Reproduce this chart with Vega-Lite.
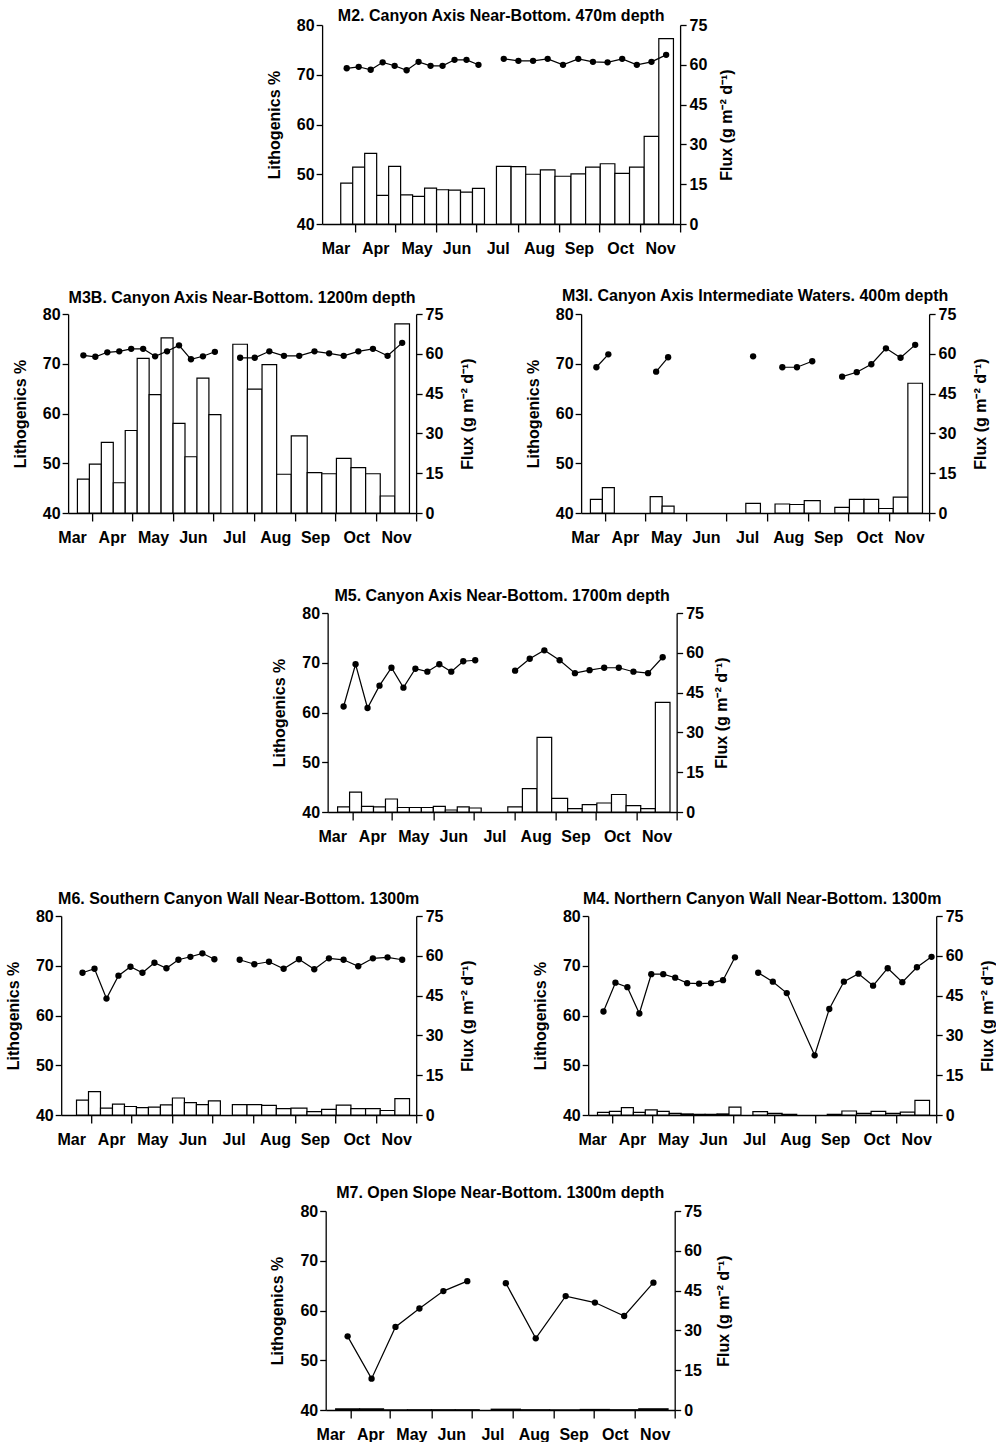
{
  "$schema": "https://vega.github.io/schema/vega-lite/v6.json",
  "background": "white",
  "padding": {"left": 5, "top": 8, "right": 0, "bottom": 0},
  "config": {
    "font": "Liberation Sans",
    "view": {"stroke": null},
    "axis": {"labelFont": "Liberation Sans", "labelFontSize": 16, "labelFontWeight": "bold", "labelColor": "black", "titleFont": "Liberation Sans", "titleFontSize": 16, "titleFontWeight": "bold", "titleColor": "black", "domainColor": "black", "tickColor": "black", "domainWidth": 1.3, "tickWidth": 1.3, "grid": false},
    "title": {"font": "Liberation Sans", "fontSize": 16, "fontWeight": "bold", "color": "black", "anchor": "middle", "frame": "group"}
  },
  "datasets": {
    "m2b": [
      {"s":79,"e":88,"f":15.4},{"s":88,"e":97,"f":21.4},{"s":97,"e":106,"f":26.6},{"s":106,"e":115,"f":10.8},{"s":115,"e":124,"f":21.7},{"s":124,"e":133,"f":11.0},{"s":133,"e":142,"f":10.4},{"s":142,"e":151,"f":13.5},{"s":151,"e":160,"f":12.9},{"s":160,"e":169,"f":12.8},{"s":169,"e":178,"f":12.0},{"s":178,"e":187,"f":13.4},
      {"s":196,"e":207,"f":21.75},{"s":207,"e":218,"f":21.6},{"s":218,"e":229,"f":18.75},{"s":229,"e":240,"f":20.4},{"s":240,"e":252,"f":18.0},{"s":252,"e":263,"f":18.9},{"s":263,"e":274,"f":21.4},{"s":274,"e":285,"f":22.7},{"s":285,"e":296,"f":19.1},{"s":296,"e":307,"f":21.4},{"s":307,"e":318,"f":33.0},{"s":318,"e":329,"f":69.9}
    ],
    "m2p": [
      {"d":83.5,"v":71.3,"g":1},{"d":92.5,"v":71.6,"g":1},{"d":101.5,"v":71.0,"g":1},{"d":110.5,"v":72.5,"g":1},{"d":119.5,"v":71.8,"g":1},{"d":128.5,"v":70.9,"g":1},{"d":137.5,"v":72.6,"g":1},{"d":146.5,"v":71.8,"g":1},{"d":155.5,"v":71.8,"g":1},{"d":164.5,"v":73.0,"g":1},{"d":173.5,"v":73.0,"g":1},{"d":182.5,"v":72.0,"g":1},
      {"d":201.5,"v":73.2,"g":2},{"d":212.5,"v":72.8,"g":2},{"d":223.5,"v":72.8,"g":2},{"d":234.5,"v":73.2,"g":2},{"d":246,"v":72.0,"g":2},{"d":257.5,"v":73.2,"g":2},{"d":268.5,"v":72.6,"g":2},{"d":279.5,"v":72.5,"g":2},{"d":290.5,"v":73.2,"g":2},{"d":301.5,"v":72.0,"g":2},{"d":312.5,"v":72.6,"g":2},{"d":323.5,"v":74.0,"g":2}
    ],
    "m3bb": [
      {"s":79,"e":88,"f":12.75},{"s":88,"e":97,"f":18.4},{"s":97,"e":106,"f":26.6},{"s":106,"e":115,"f":11.4},{"s":115,"e":124,"f":31.1},{"s":124,"e":133,"f":58.3},{"s":133,"e":142,"f":44.6},{"s":142,"e":151,"f":66.0},{"s":151,"e":160,"f":33.75},{"s":160,"e":169,"f":21.2},{"s":169,"e":178,"f":50.8},{"s":178,"e":187,"f":37.1},
      {"s":196,"e":207,"f":63.6},{"s":207,"e":218,"f":46.7},{"s":218,"e":229,"f":55.9},{"s":229,"e":240,"f":14.6},{"s":240,"e":252,"f":29.1},{"s":252,"e":263,"f":15.2},{"s":263,"e":274,"f":14.8},{"s":274,"e":285,"f":20.6},{"s":285,"e":296,"f":17.1},{"s":296,"e":307,"f":14.8},{"s":307,"e":318,"f":6.4},{"s":318,"e":329,"f":71.3}
    ],
    "m3bp": [
      {"d":83.5,"v":71.7,"g":1},{"d":92.5,"v":71.4,"g":1},{"d":101.5,"v":72.3,"g":1},{"d":110.5,"v":72.5,"g":1},{"d":119.5,"v":73.0,"g":1},{"d":128.5,"v":73.0,"g":1},{"d":137.5,"v":71.5,"g":1},{"d":146.5,"v":72.5,"g":1},{"d":155.5,"v":73.7,"g":1},{"d":164.5,"v":70.9,"g":1},{"d":173.5,"v":71.5,"g":1},{"d":182.5,"v":72.4,"g":1},
      {"d":201.5,"v":71.2,"g":2},{"d":212.5,"v":71.2,"g":2},{"d":223.5,"v":72.5,"g":2},{"d":234.5,"v":71.6,"g":2},{"d":246,"v":71.6,"g":2},{"d":257.5,"v":72.5,"g":2},{"d":268.5,"v":72.1,"g":2},{"d":279.5,"v":71.6,"g":2},{"d":290.5,"v":72.5,"g":2},{"d":301.5,"v":73.0,"g":2},{"d":312.5,"v":71.6,"g":2},{"d":323.5,"v":74.2,"g":2}
    ],
    "m3ib": [
      {"s":79,"e":88,"f":5.1},{"s":88,"e":97,"f":9.6},{"s":124,"e":133,"f":6.2},{"s":133,"e":142,"f":2.6},
      {"s":196,"e":207,"f":3.6},{"s":218,"e":229,"f":3.4},{"s":229,"e":240,"f":3.2},{"s":240,"e":252,"f":4.7},{"s":263,"e":274,"f":2.1},{"s":274,"e":285,"f":5.1},{"s":285,"e":296,"f":5.1},{"s":296,"e":307,"f":1.7},{"s":307,"e":318,"f":6.0},{"s":318,"e":329,"f":48.9}
    ],
    "m3ip": [
      {"d":83.5,"v":69.3,"g":1},{"d":92.5,"v":71.9,"g":1},
      {"d":128.5,"v":68.4,"g":2},{"d":137.5,"v":71.3,"g":2},
      {"d":201.5,"v":71.5,"g":3},
      {"d":223.5,"v":69.3,"g":4},{"d":234.5,"v":69.3,"g":4},{"d":246,"v":70.5,"g":4},
      {"d":268.5,"v":67.4,"g":5},{"d":279.5,"v":68.3,"g":5},{"d":290.5,"v":69.9,"g":5},{"d":301.5,"v":73.1,"g":5},{"d":312.5,"v":71.2,"g":5},{"d":323.5,"v":73.8,"g":5}
    ],
    "m5b": [
      {"s":79,"e":88,"f":1.9},{"s":88,"e":97,"f":7.5},{"s":97,"e":106,"f":2.1},{"s":106,"e":115,"f":1.9},{"s":115,"e":124,"f":4.9},{"s":124,"e":133,"f":1.7},{"s":133,"e":142,"f":1.7},{"s":142,"e":151,"f":1.7},{"s":151,"e":160,"f":2.1},{"s":160,"e":169,"f":0.75},{"s":169,"e":178,"f":1.9},{"s":178,"e":187,"f":1.5},
      {"s":207,"e":218,"f":1.9},{"s":218,"e":229,"f":8.8},{"s":229,"e":240,"f":28.1},{"s":240,"e":252,"f":5.1},{"s":252,"e":263,"f":1.3},{"s":263,"e":274,"f":2.8},{"s":274,"e":285,"f":3.4},{"s":285,"e":296,"f":6.6},{"s":296,"e":307,"f":2.4},{"s":307,"e":318,"f":1.3},{"s":318,"e":329,"f":41.3}
    ],
    "m5p": [
      {"d":83.5,"v":61.2,"g":1},{"d":92.5,"v":69.7,"g":1},{"d":101.5,"v":60.9,"g":1},{"d":110.5,"v":65.4,"g":1},{"d":119.5,"v":69.0,"g":1},{"d":128.5,"v":65.0,"g":1},{"d":137.5,"v":68.8,"g":1},{"d":146.5,"v":68.2,"g":1},{"d":155.5,"v":69.7,"g":1},{"d":164.5,"v":68.2,"g":1},{"d":173.5,"v":70.3,"g":1},{"d":182.5,"v":70.5,"g":1},
      {"d":212.5,"v":68.4,"g":2},{"d":223.5,"v":70.8,"g":2},{"d":234.5,"v":72.5,"g":2},{"d":246,"v":70.5,"g":2},{"d":257.5,"v":67.9,"g":2},{"d":268.5,"v":68.5,"g":2},{"d":279.5,"v":69.0,"g":2},{"d":290.5,"v":69.0,"g":2},{"d":301.5,"v":68.2,"g":2},{"d":312.5,"v":67.9,"g":2},{"d":323.5,"v":71.1,"g":2}
    ],
    "m6b": [
      {"s":79,"e":88,"f":5.6},{"s":88,"e":97,"f":8.8},{"s":97,"e":106,"f":2.6},{"s":106,"e":115,"f":4.1},{"s":115,"e":124,"f":3.2},{"s":124,"e":133,"f":2.8},{"s":133,"e":142,"f":3.0},{"s":142,"e":151,"f":3.8},{"s":151,"e":160,"f":6.4},{"s":160,"e":169,"f":4.7},{"s":169,"e":178,"f":3.9},{"s":178,"e":187,"f":5.3},
      {"s":196,"e":207,"f":3.9},{"s":207,"e":218,"f":3.9},{"s":218,"e":229,"f":3.6},{"s":229,"e":240,"f":2.4},{"s":240,"e":252,"f":2.6},{"s":252,"e":263,"f":1.3},{"s":263,"e":274,"f":2.1},{"s":274,"e":285,"f":3.75},{"s":285,"e":296,"f":2.4},{"s":296,"e":307,"f":2.4},{"s":307,"e":318,"f":1.7},{"s":318,"e":329,"f":6.2}
    ],
    "m6p": [
      {"d":83.5,"v":68.6,"g":1},{"d":92.5,"v":69.4,"g":1},{"d":101.5,"v":63.4,"g":1},{"d":110.5,"v":68.0,"g":1},{"d":119.5,"v":69.8,"g":1},{"d":128.5,"v":68.6,"g":1},{"d":137.5,"v":70.6,"g":1},{"d":146.5,"v":69.5,"g":1},{"d":155.5,"v":71.2,"g":1},{"d":164.5,"v":71.8,"g":1},{"d":173.5,"v":72.5,"g":1},{"d":182.5,"v":71.3,"g":1},
      {"d":201.5,"v":71.2,"g":2},{"d":212.5,"v":70.3,"g":2},{"d":223.5,"v":70.8,"g":2},{"d":234.5,"v":69.4,"g":2},{"d":246,"v":71.3,"g":2},{"d":257.5,"v":69.3,"g":2},{"d":268.5,"v":71.5,"g":2},{"d":279.5,"v":71.2,"g":2},{"d":290.5,"v":69.9,"g":2},{"d":301.5,"v":71.5,"g":2},{"d":312.5,"v":71.7,"g":2},{"d":323.5,"v":71.2,"g":2}
    ],
    "m4b": [
      {"s":79,"e":88,"f":1.0},{"s":88,"e":97,"f":1.4},{"s":97,"e":106,"f":2.8},{"s":106,"e":115,"f":1.0},{"s":115,"e":124,"f":1.9},{"s":124,"e":133,"f":1.4},{"s":133,"e":142,"f":0.6},{"s":142,"e":151,"f":0.4},{"s":151,"e":160,"f":0.25},{"s":160,"e":169,"f":0.25},{"s":169,"e":178,"f":0.4},{"s":178,"e":187,"f":3.0},
      {"s":196,"e":207,"f":1.25},{"s":207,"e":218,"f":0.6},{"s":218,"e":229,"f":0.25},{"s":252,"e":263,"f":0.25},{"s":263,"e":274,"f":1.5},{"s":274,"e":285,"f":0.6},{"s":285,"e":296,"f":1.4},{"s":296,"e":307,"f":0.6},{"s":307,"e":318,"f":1.1},{"s":318,"e":329,"f":5.5}
    ],
    "m4p": [
      {"d":83.5,"v":60.8,"g":1},{"d":92.5,"v":66.6,"g":1},{"d":101.5,"v":65.7,"g":1},{"d":110.5,"v":60.4,"g":1},{"d":119.5,"v":68.3,"g":1},{"d":128.5,"v":68.3,"g":1},{"d":137.5,"v":67.6,"g":1},{"d":146.5,"v":66.5,"g":1},{"d":155.5,"v":66.4,"g":1},{"d":164.5,"v":66.5,"g":1},{"d":173.5,"v":67.1,"g":1},{"d":182.5,"v":71.7,"g":1},
      {"d":200,"v":68.6,"g":2},{"d":211,"v":66.8,"g":2},{"d":221.5,"v":64.5,"g":2},{"d":242.5,"v":52.0,"g":2},{"d":253.5,"v":61.3,"g":2},{"d":264.5,"v":66.8,"g":2},{"d":275.5,"v":68.4,"g":2},{"d":286.5,"v":66.0,"g":2},{"d":297.5,"v":69.5,"g":2},{"d":308.5,"v":66.7,"g":2},{"d":319.5,"v":69.7,"g":2},{"d":330.5,"v":71.8,"g":2}
    ],
    "m7b": [
      {"s":79,"e":97,"f":0.45},{"s":97,"e":115,"f":0.45},{"s":115,"e":133,"f":0.1},{"s":133,"e":151,"f":0.1},{"s":151,"e":169,"f":0.1},{"s":169,"e":187,"f":0.1},
      {"s":196,"e":218,"f":0.3},{"s":218,"e":240,"f":0.1},{"s":240,"e":263,"f":0.1},{"s":263,"e":285,"f":0.2},{"s":285,"e":307,"f":0.1},{"s":307,"e":329,"f":0.45}
    ],
    "m7p": [
      {"d":88,"v":54.8,"g":1},{"d":106,"v":46.3,"g":1},{"d":124,"v":56.7,"g":1},{"d":142,"v":60.4,"g":1},{"d":160,"v":63.9,"g":1},{"d":178,"v":65.9,"g":1},
      {"d":207,"v":65.5,"g":2},{"d":229.5,"v":54.4,"g":2},{"d":252,"v":62.9,"g":2},{"d":274,"v":61.6,"g":2},{"d":296,"v":58.9,"g":2},{"d":318,"v":65.6,"g":2}
    ]
  },
  "vconcat": [
    {
      "width": 358, "height": 199,
      "title": {"text": "M2. Canyon Axis Near-Bottom. 470m depth", "offset": -7},
      "layer": [
        {"data": {"name": "m2b"}, "mark": {"type": "bar", "fill": "white", "stroke": "black", "strokeWidth": 1.2},
         "encoding": {
           "x": {"field": "s", "type": "quantitative", "scale": {"domain": [65, 334], "nice": false, "zero": false}, "axis": {"values": [90,120,151,181,212,243,273,304,334], "labelExpr": "timeFormat(datetime(2001,0,datum.value),'%b')", "labelOffset": -20, "labelFlush": false, "labelOverlap": false, "labelBound": false, "tickSize": 8, "labelPadding": 8, "title": null}},
           "x2": {"field": "e"},
           "y": {"field": "f", "type": "quantitative", "scale": {"domain": [0, 75], "nice": false}, "axis": {"orient": "right", "values": [0,15,30,45,60,75], "tickSize": 6, "labelPadding": 3, "title": "Flux (g m⁻² d⁻¹)", "titleAngle": 270, "titleBaseline": "top", "titlePadding": 12}},
           "y2": {"datum": 0}
         }},
        {"data": {"name": "m2p"},
         "encoding": {
           "x": {"field": "d", "type": "quantitative", "axis": {"values": [90,120,151,181,212,243,273,304,334], "labelExpr": "timeFormat(datetime(2001,0,datum.value),'%b')", "labelOffset": -20, "labelFlush": false, "labelOverlap": false, "labelBound": false, "tickSize": 8, "labelPadding": 8, "title": null}},
           "y": {"field": "v", "type": "quantitative", "scale": {"domain": [40, 80], "nice": false, "zero": false}, "axis": {"orient": "left", "values": [40,50,60,70,80], "tickSize": 6, "labelPadding": 2, "title": "Lithogenics %", "titlePadding": 14}}
         },
         "layer": [
           {"mark": {"type": "line", "color": "black", "strokeWidth": 1.2}, "encoding": {"detail": {"field": "g"}}},
           {"mark": {"type": "point", "filled": true, "color": "black", "opacity": 1, "size": 40}}
         ]}
      ],
      "resolve": {"scale": {"y": "independent"}}
    },
    {
      "spacing": 43, "center": true,
      "vconcat": [
        {
          "spacing": 49,
          "hconcat": [
            {
              "width": 348, "height": 199,
              "title": {"text": "M3B. Canyon Axis Near-Bottom. 1200m depth", "offset": 0},
              "layer": [
                {"data": {"name": "m3bb"}, "mark": {"type": "bar", "fill": "white", "stroke": "black", "strokeWidth": 1.2},
                 "encoding": {
                   "x": {"field": "s", "type": "quantitative", "scale": {"domain": [72, 334], "nice": false, "zero": false}, "axis": {"values": [90,120,151,181,212,243,273,304,334], "labelExpr": "timeFormat(datetime(2001,0,datum.value),'%b')", "labelOffset": -20, "labelFlush": false, "labelOverlap": false, "labelBound": false, "tickSize": 8, "labelPadding": 8, "title": null}},
                   "x2": {"field": "e"},
                   "y": {"field": "f", "type": "quantitative", "scale": {"domain": [0, 75], "nice": false}, "axis": {"orient": "right", "values": [0,15,30,45,60,75], "tickSize": 6, "labelPadding": 3, "title": "Flux (g m⁻² d⁻¹)", "titleAngle": 270, "titleBaseline": "top", "titlePadding": 17}},
                   "y2": {"datum": 0}
                 }},
                {"data": {"name": "m3bp"},
                 "encoding": {
                   "x": {"field": "d", "type": "quantitative", "axis": {"values": [90,120,151,181,212,243,273,304,334], "labelExpr": "timeFormat(datetime(2001,0,datum.value),'%b')", "labelOffset": -20, "labelFlush": false, "labelOverlap": false, "labelBound": false, "tickSize": 8, "labelPadding": 8, "title": null}},
                   "y": {"field": "v", "type": "quantitative", "scale": {"domain": [40, 80], "nice": false, "zero": false}, "axis": {"orient": "left", "values": [40,50,60,70,80], "tickSize": 6, "labelPadding": 2, "title": "Lithogenics %", "titlePadding": 14}}
                 },
                 "layer": [
                   {"mark": {"type": "line", "color": "black", "strokeWidth": 1.2}, "encoding": {"detail": {"field": "g"}}},
                   {"mark": {"type": "point", "filled": true, "color": "black", "opacity": 1, "size": 40}}
                 ]}
              ],
              "resolve": {"scale": {"y": "independent"}}
            },
            {
              "width": 348, "height": 199,
              "title": {"text": "M3I. Canyon Axis Intermediate Waters. 400m depth", "offset": 2},
              "layer": [
                {"data": {"name": "m3ib"}, "mark": {"type": "bar", "fill": "white", "stroke": "black", "strokeWidth": 1.2},
                 "encoding": {
                   "x": {"field": "s", "type": "quantitative", "scale": {"domain": [72, 334], "nice": false, "zero": false}, "axis": {"values": [90,120,151,181,212,243,273,304,334], "labelExpr": "timeFormat(datetime(2001,0,datum.value),'%b')", "labelOffset": -20, "labelFlush": false, "labelOverlap": false, "labelBound": false, "tickSize": 8, "labelPadding": 8, "title": null}},
                   "x2": {"field": "e"},
                   "y": {"field": "f", "type": "quantitative", "scale": {"domain": [0, 75], "nice": false}, "axis": {"orient": "right", "values": [0,15,30,45,60,75], "tickSize": 6, "labelPadding": 3, "title": "Flux (g m⁻² d⁻¹)", "titleAngle": 270, "titleBaseline": "top", "titlePadding": 17}},
                   "y2": {"datum": 0}
                 }},
                {"data": {"name": "m3ip"},
                 "encoding": {
                   "x": {"field": "d", "type": "quantitative", "axis": {"values": [90,120,151,181,212,243,273,304,334], "labelExpr": "timeFormat(datetime(2001,0,datum.value),'%b')", "labelOffset": -20, "labelFlush": false, "labelOverlap": false, "labelBound": false, "tickSize": 8, "labelPadding": 8, "title": null}},
                   "y": {"field": "v", "type": "quantitative", "scale": {"domain": [40, 80], "nice": false, "zero": false}, "axis": {"orient": "left", "values": [40,50,60,70,80], "tickSize": 6, "labelPadding": 2, "title": "Lithogenics %", "titlePadding": 14}}
                 },
                 "layer": [
                   {"mark": {"type": "line", "color": "black", "strokeWidth": 1.2}, "encoding": {"detail": {"field": "g"}}},
                   {"mark": {"type": "point", "filled": true, "color": "black", "opacity": 1, "size": 40}}
                 ]}
              ],
              "resolve": {"scale": {"y": "independent"}}
            }
          ]
        },
        {
          "spacing": 47, "center": true,
          "vconcat": [
            {
              "width": 349, "height": 199,
              "title": {"text": "M5. Canyon Axis Near-Bottom. 1700m depth", "offset": 1},
              "layer": [
                {"data": {"name": "m5b"}, "mark": {"type": "bar", "fill": "white", "stroke": "black", "strokeWidth": 1.2},
                 "encoding": {
                   "x": {"field": "s", "type": "quantitative", "scale": {"domain": [71.5, 334], "nice": false, "zero": false}, "axis": {"values": [90,120,151,181,212,243,273,304,334], "labelExpr": "timeFormat(datetime(2001,0,datum.value),'%b')", "labelOffset": -20, "labelFlush": false, "labelOverlap": false, "labelBound": false, "tickSize": 8, "labelPadding": 8, "title": null}},
                   "x2": {"field": "e"},
                   "y": {"field": "f", "type": "quantitative", "scale": {"domain": [0, 75], "nice": false}, "axis": {"orient": "right", "values": [0,15,30,45,60,75], "tickSize": 6, "labelPadding": 3, "title": "Flux (g m⁻² d⁻¹)", "titleAngle": 270, "titleBaseline": "top", "titlePadding": 10}},
                   "y2": {"datum": 0}
                 }},
                {"data": {"name": "m5p"},
                 "encoding": {
                   "x": {"field": "d", "type": "quantitative", "axis": {"values": [90,120,151,181,212,243,273,304,334], "labelExpr": "timeFormat(datetime(2001,0,datum.value),'%b')", "labelOffset": -20, "labelFlush": false, "labelOverlap": false, "labelBound": false, "tickSize": 8, "labelPadding": 8, "title": null}},
                   "y": {"field": "v", "type": "quantitative", "scale": {"domain": [40, 80], "nice": false, "zero": false}, "axis": {"orient": "left", "values": [40,50,60,70,80], "tickSize": 6, "labelPadding": 2, "title": "Lithogenics %", "titlePadding": 14}}
                 },
                 "layer": [
                   {"mark": {"type": "line", "color": "black", "strokeWidth": 1.2}, "encoding": {"detail": {"field": "g"}}},
                   {"mark": {"type": "point", "filled": true, "color": "black", "opacity": 1, "size": 40}}
                 ]}
              ],
              "resolve": {"scale": {"y": "independent"}}
            },
            {
              "spacing": 38, "center": true,
              "vconcat": [
                {
                  "spacing": 56,
                  "hconcat": [
                    {
                      "width": 355, "height": 199,
                      "title": {"text": "M6. Southern Canyon Wall  Near-Bottom. 1300m", "offset": 1},
                      "layer": [
                        {"data": {"name": "m6b"}, "mark": {"type": "bar", "fill": "white", "stroke": "black", "strokeWidth": 1.2},
                         "encoding": {
                           "x": {"field": "s", "type": "quantitative", "scale": {"domain": [67.5, 334], "nice": false, "zero": false}, "axis": {"values": [90,120,151,181,212,243,273,304,334], "labelExpr": "timeFormat(datetime(2001,0,datum.value),'%b')", "labelOffset": -20, "labelFlush": false, "labelOverlap": false, "labelBound": false, "tickSize": 8, "labelPadding": 8, "title": null}},
                           "x2": {"field": "e"},
                           "y": {"field": "f", "type": "quantitative", "scale": {"domain": [0, 75], "nice": false}, "axis": {"orient": "right", "values": [0,15,30,45,60,75], "tickSize": 6, "labelPadding": 3, "title": "Flux (g m⁻² d⁻¹)", "titleAngle": 270, "titleBaseline": "top", "titlePadding": 17}},
                           "y2": {"datum": 0}
                         }},
                        {"data": {"name": "m6p"},
                         "encoding": {
                           "x": {"field": "d", "type": "quantitative", "axis": {"values": [90,120,151,181,212,243,273,304,334], "labelExpr": "timeFormat(datetime(2001,0,datum.value),'%b')", "labelOffset": -20, "labelFlush": false, "labelOverlap": false, "labelBound": false, "tickSize": 8, "labelPadding": 8, "title": null}},
                           "y": {"field": "v", "type": "quantitative", "scale": {"domain": [40, 80], "nice": false, "zero": false}, "axis": {"orient": "left", "values": [40,50,60,70,80], "tickSize": 6, "labelPadding": 2, "title": "Lithogenics %", "titlePadding": 14}}
                         },
                         "layer": [
                           {"mark": {"type": "line", "color": "black", "strokeWidth": 1.2}, "encoding": {"detail": {"field": "g"}}},
                           {"mark": {"type": "point", "filled": true, "color": "black", "opacity": 1, "size": 40}}
                         ]}
                      ],
                      "resolve": {"scale": {"y": "independent"}}
                    },
                    {
                      "width": 348, "height": 199,
                      "title": {"text": "M4. Northern Canyon Wall  Near-Bottom. 1300m", "offset": 1},
                      "layer": [
                        {"data": {"name": "m4b"}, "mark": {"type": "bar", "fill": "white", "stroke": "black", "strokeWidth": 1.2},
                         "encoding": {
                           "x": {"field": "s", "type": "quantitative", "scale": {"domain": [72, 334], "nice": false, "zero": false}, "axis": {"values": [90,120,151,181,212,243,273,304,334], "labelExpr": "timeFormat(datetime(2001,0,datum.value),'%b')", "labelOffset": -20, "labelFlush": false, "labelOverlap": false, "labelBound": false, "tickSize": 8, "labelPadding": 8, "title": null}},
                           "x2": {"field": "e"},
                           "y": {"field": "f", "type": "quantitative", "scale": {"domain": [0, 75], "nice": false}, "axis": {"orient": "right", "values": [0,15,30,45,60,75], "tickSize": 6, "labelPadding": 3, "title": "Flux (g m⁻² d⁻¹)", "titleAngle": 270, "titleBaseline": "top", "titlePadding": 17}},
                           "y2": {"datum": 0}
                         }},
                        {"data": {"name": "m4p"},
                         "encoding": {
                           "x": {"field": "d", "type": "quantitative", "axis": {"values": [90,120,151,181,212,243,273,304,334], "labelExpr": "timeFormat(datetime(2001,0,datum.value),'%b')", "labelOffset": -20, "labelFlush": false, "labelOverlap": false, "labelBound": false, "tickSize": 8, "labelPadding": 8, "title": null}},
                           "y": {"field": "v", "type": "quantitative", "scale": {"domain": [40, 80], "nice": false, "zero": false}, "axis": {"orient": "left", "values": [40,50,60,70,80], "tickSize": 6, "labelPadding": 2, "title": "Lithogenics %", "titlePadding": 14}}
                         },
                         "layer": [
                           {"mark": {"type": "line", "color": "black", "strokeWidth": 1.2}, "encoding": {"detail": {"field": "g"}}},
                           {"mark": {"type": "point", "filled": true, "color": "black", "opacity": 1, "size": 40}}
                         ]}
                      ],
                      "resolve": {"scale": {"y": "independent"}}
                    }
                  ]
                },
                {
                  "width": 349, "height": 199,
                  "title": {"text": "M7. Open Slope  Near-Bottom. 1300m depth", "offset": 2},
                  "layer": [
                    {"data": {"name": "m7b"}, "mark": {"type": "bar", "fill": "white", "stroke": "black", "strokeWidth": 1.2},
                     "encoding": {
                       "x": {"field": "s", "type": "quantitative", "scale": {"domain": [71.5, 334], "nice": false, "zero": false}, "axis": {"values": [90,120,151,181,212,243,273,304,334], "labelExpr": "timeFormat(datetime(2001,0,datum.value),'%b')", "labelOffset": -20, "labelFlush": false, "labelOverlap": false, "labelBound": false, "tickSize": 8, "labelPadding": 8, "title": null}},
                       "x2": {"field": "e"},
                       "y": {"field": "f", "type": "quantitative", "scale": {"domain": [0, 75], "nice": false}, "axis": {"orient": "right", "values": [0,15,30,45,60,75], "tickSize": 6, "labelPadding": 3, "title": "Flux (g m⁻² d⁻¹)", "titleAngle": 270, "titleBaseline": "top", "titlePadding": 14}},
                       "y2": {"datum": 0}
                     }},
                    {"data": {"name": "m7p"},
                     "encoding": {
                       "x": {"field": "d", "type": "quantitative", "axis": {"values": [90,120,151,181,212,243,273,304,334], "labelExpr": "timeFormat(datetime(2001,0,datum.value),'%b')", "labelOffset": -20, "labelFlush": false, "labelOverlap": false, "labelBound": false, "tickSize": 8, "labelPadding": 8, "title": null}},
                       "y": {"field": "v", "type": "quantitative", "scale": {"domain": [40, 80], "nice": false, "zero": false}, "axis": {"orient": "left", "values": [40,50,60,70,80], "tickSize": 6, "labelPadding": 2, "title": "Lithogenics %", "titlePadding": 14}}
                     },
                     "layer": [
                       {"mark": {"type": "line", "color": "black", "strokeWidth": 1.2}, "encoding": {"detail": {"field": "g"}}},
                       {"mark": {"type": "point", "filled": true, "color": "black", "opacity": 1, "size": 40}}
                     ]}
                  ],
                  "resolve": {"scale": {"y": "independent"}}
                }
              ]
            }
          ]
        }
      ]
    }
  ],
  "spacing": 32,
  "center": true
}
